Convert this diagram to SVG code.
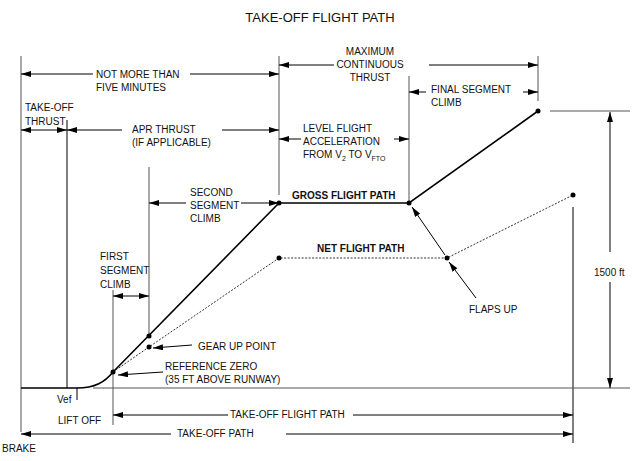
<svg xmlns="http://www.w3.org/2000/svg" width="640" height="461" viewBox="0 0 640 461">
<defs>
<marker id="a" viewBox="0 0 10 6" refX="10" refY="3" markerWidth="10" markerHeight="6" markerUnits="userSpaceOnUse" orient="auto-start-reverse"><path d="M0,0L10,3L0,6z" fill="#000"/></marker>
</defs>
<style>
text{font-family:"Liberation Sans",Arial,sans-serif;font-size:10px;fill:#111}
.b{font-weight:bold}
.t{font-size:13px}
.g{stroke:#555;stroke-width:1;fill:none}
.k{stroke:#000;stroke-width:1;fill:none}
.d{stroke:#000;stroke-width:1;fill:none;marker-start:url(#a);marker-end:url(#a)}
.e{stroke:#000;stroke-width:1;fill:none;marker-end:url(#a)}
.gross{stroke:#000;stroke-width:1.6;fill:none}
.net{stroke:#333;stroke-width:1;stroke-dasharray:2,1.5;fill:none}
</style>
<rect width="640" height="461" fill="#fff"/>
<text class="t" x="320" y="22" text-anchor="middle">TAKE-OFF FLIGHT PATH</text>
<g id="connectors">
<line class="g" x1="21" y1="56" x2="21" y2="432"/>
<line class="k" x1="67" y1="120" x2="67" y2="388"/>
<line class="k" x1="77" y1="388" x2="77" y2="400"/>
<line class="g" x1="149" y1="167" x2="149" y2="336"/>
<line class="g" x1="113" y1="290" x2="113" y2="425"/>
<line class="g" x1="279" y1="56" x2="279" y2="195"/>
<line class="g" x1="409" y1="76" x2="409" y2="203"/>
<line class="g" x1="538" y1="56" x2="538" y2="101"/>
<line class="k" x1="573" y1="207" x2="573" y2="443"/>
<line class="g" x1="93" y1="388" x2="630" y2="388"/>
<line class="g" x1="550" y1="111" x2="630" y2="111"/>
<path class="gross" d="M21,388H77C95,388 105,382 113,372"/>
<line class="d" x1="21" y1="74" x2="279" y2="74" stroke-dasharray="72,97,200"/>
<line class="d" x1="279" y1="65" x2="538" y2="65" stroke-dasharray="55,95,200"/>
<line class="d" x1="21" y1="130" x2="67" y2="130"/>
<line class="d" x1="67" y1="130" x2="279" y2="130" stroke-dasharray="55,100,200"/>
<line class="d" x1="279" y1="139" x2="409" y2="139" stroke-dasharray="22,93,200"/>
<line class="d" x1="409" y1="92" x2="538" y2="92" stroke-dasharray="17,97,200"/>
<line class="d" x1="149" y1="203" x2="279" y2="203" stroke-dasharray="37,55,200"/>
<line class="d" x1="113" y1="296" x2="149" y2="296"/>
<line class="d" x1="113" y1="415" x2="573" y2="415" stroke-dasharray="115,125,400"/>
<line class="d" x1="21" y1="434" x2="573" y2="434" stroke-dasharray="150,115,400"/>
<line class="d" x1="610" y1="112" x2="610" y2="388" stroke-dasharray="140,30,200"/>
<polyline class="gross" points="113,372 279,203 409,203 538,111"/>
<polyline class="net" points="113,372 149,347 279,258 447,258 573,195"/>
<line class="e" x1="192" y1="345" x2="153" y2="348"/>
<line class="e" x1="163" y1="372" x2="118" y2="375"/>
<line class="e" x1="476" y1="298" x2="449" y2="262"/>
<line class="e" x1="445" y1="255" x2="412" y2="207"/>
</g>
<g id="points" fill="#000">
<circle cx="113" cy="372" r="2.5"/><circle cx="149" cy="336" r="2.5"/><circle cx="149" cy="347" r="2.5"/>
<circle cx="279" cy="203" r="2.5"/><circle cx="409" cy="203" r="2.5"/><circle cx="538" cy="111" r="2.5"/>
<circle cx="279" cy="258" r="2.5"/><circle cx="447" cy="258" r="2.5"/><circle cx="573" cy="195" r="2.5"/>
</g>
<g id="labels">
<text x="96" y="78">NOT MORE THAN</text><text x="96" y="91">FIVE MINUTES</text>
<text x="370" y="55" text-anchor="middle">MAXIMUM</text><text x="370" y="68" text-anchor="middle">CONTINUOUS</text><text x="370" y="81" text-anchor="middle">THRUST</text>
<text x="25" y="111">TAKE-OFF</text><text x="25" y="125">THRUST</text>
<text x="132" y="133">APR THRUST</text><text x="132" y="146">(IF APPLICABLE)</text>
<text x="303" y="132">LEVEL FLIGHT</text><text x="303" y="145">ACCELERATION</text><text x="303" y="158">FROM V<tspan font-size="7" dy="3">2</tspan><tspan dy="-3"> TO V</tspan><tspan font-size="7" dy="3">FTO</tspan></text>
<text x="431" y="93">FINAL SEGMENT</text><text x="431" y="106">CLIMB</text>
<text x="190" y="196">SECOND</text><text x="190" y="209">SEGMENT</text><text x="190" y="222">CLIMB</text>
<text x="100" y="260">FIRST</text><text x="100" y="274">SEGMENT</text><text x="100" y="288">CLIMB</text>
<text class="b" x="292" y="199">GROSS FLIGHT PATH</text>
<text class="b" x="317" y="252">NET FLIGHT PATH</text>
<text x="469" y="313">FLAPS UP</text>
<text x="198" y="350">GEAR UP POINT</text>
<text x="165" y="370">REFERENCE ZERO</text><text x="165" y="383">(35 FT ABOVE RUNWAY)</text>
<text x="594" y="276">1500 ft</text>
<text x="57" y="403">Vef</text><text x="58" y="424">LIFT OFF</text><text x="2" y="452">BRAKE</text>
<text x="230" y="418">TAKE-OFF FLIGHT PATH</text>
<text x="177" y="437">TAKE-OFF PATH</text>
</g>
</svg>
